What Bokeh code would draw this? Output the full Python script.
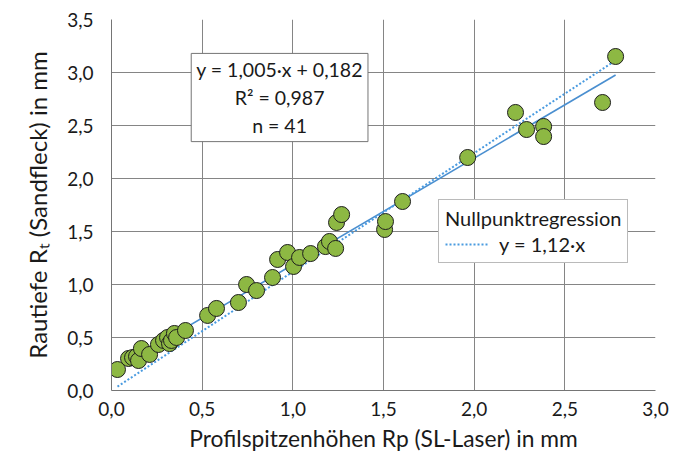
import numpy as np
from bokeh.plotting import figure
from bokeh.models import (ColumnDataSource, FixedTicker, Label, Legend, LegendItem)
from bokeh.embed import file_html
from bokeh.resources import INLINE

# ---- data ----
rp_x = [0.033, 0.094, 0.116, 0.138, 0.149, 0.165, 0.210, 0.259, 0.287, 0.309,
        0.320, 0.331, 0.347, 0.359, 0.408, 0.530, 0.579, 0.700, 0.745, 0.800,
        0.888, 0.916, 0.971, 1.004, 1.037, 1.098, 1.180, 1.202, 1.236, 1.241,
        1.269, 1.506, 1.511, 1.605, 1.964, 2.228, 2.289, 2.383, 2.383, 2.708,
        2.780]
rt_y = [0.198, 0.302, 0.311, 0.321, 0.283, 0.396, 0.340, 0.434, 0.472, 0.500,
        0.443, 0.472, 0.538, 0.500, 0.566, 0.708, 0.774, 0.830, 1.000, 0.943,
        1.066, 1.236, 1.302, 1.170, 1.255, 1.292, 1.358, 1.406, 1.340, 1.585,
        1.660, 1.519, 1.594, 1.783, 2.198, 2.623, 2.462, 2.491, 2.396, 2.717,
        3.151]

slope_lin, intercept_lin = 1.005, 0.182
slope_null = 1.12

x_ticks = [0.0, 0.5, 1.0, 1.5, 2.0, 2.5, 3.0]
x_tick_labels = ["0,0", "0,5", "1,0", "1,5", "2,0", "2,5", "3,0"]
y_ticks = [0.0, 0.5, 1.0, 1.5, 2.0, 2.5, 3.0, 3.5]
y_tick_labels = ["0,0", "0,5", "1,0", "1,5", "2,0", "2,5", "3,0", "3,5"]

x_title = "Profilspitzenhöhen Rp (SL-Laser) in mm"
y_title = "Rautiefe R\u209c (Sandfleck) in mm"
eq_text = "y = 1,005·x + 0,182\nR² = 0,987\nn = 41"
legend_title = "Nullpunktregression"
legend_label = "y = 1,12·x"

FONT = "Lato"
TXT = "#1a1a1a"
GRID = "#858585"

p = figure(width=684, height=461, x_range=(0, 3.0), y_range=(0, 3.5),
           output_backend="svg", toolbar_location=None)
p.min_border_left = 111
p.min_border_right = 29
p.min_border_top = 19
p.min_border_bottom = 71
p.outline_line_color = None
p.background_fill_color = "white"
p.border_fill_color = "white"

for ax, ticks, labels in ((p.xaxis[0], x_ticks, x_tick_labels),
                          (p.yaxis[0], y_ticks, y_tick_labels)):
    ax.ticker = FixedTicker(ticks=ticks)
    ax.major_label_overrides = {t: l for t, l in zip(ticks, labels)}
    ax.major_tick_in = 0
    ax.major_tick_out = 0
    ax.minor_tick_in = 0
    ax.minor_tick_out = 0
    ax.axis_line_color = "#757575"
    ax.axis_line_width = 1
    ax.major_label_text_font = FONT
    ax.major_label_text_font_size = "19px"
    ax.major_label_text_color = TXT
    ax.axis_label_text_font = FONT
    ax.axis_label_text_font_style = "normal"
    ax.axis_label_text_color = TXT

p.xaxis.axis_label = x_title
p.yaxis.axis_label = y_title
p.xaxis.axis_label_text_font_size = "22.8px"
p.yaxis.axis_label_text_font_size = "24px"
p.xaxis.major_label_standoff = 11
p.yaxis.major_label_standoff = 18
p.xaxis.axis_label_standoff = 5
p.yaxis.axis_label_standoff = 12

p.xgrid.ticker = FixedTicker(ticks=x_ticks)
p.ygrid.ticker = FixedTicker(ticks=y_ticks)
for g in (p.xgrid[0], p.ygrid[0]):
    g.grid_line_color = GRID
    g.grid_line_width = 1

# regression lines
xs_line = np.array([min(rp_x), max(rp_x)])
src_lin = ColumnDataSource(dict(x=xs_line, y=slope_lin * xs_line + intercept_lin))
src_null = ColumnDataSource(dict(x=xs_line, y=slope_null * xs_line))
p.line("x", "y", source=src_lin, line_color="#4a8fd0", line_width=1.6)
null_r = p.line("x", "y", source=src_null, line_color="#4a9be0", line_width=2,
                line_dash="2 2")

# points
src_pts = ColumnDataSource(dict(x=rp_x, y=rt_y))
p.scatter("x", "y", source=src_pts, size=16, fill_color="#8db843",
          line_color="#1e1e1e", line_width=1)

# equation box
eq = Label(x=0.927, y=2.764, text=eq_text, text_align="center",
           text_baseline="middle", text_font=FONT, text_font_size="19.5px",
           text_color=TXT, text_line_height=1.2,
           background_fill_color="white", border_line_color="#757575",
           border_line_width=1, padding=5)
p.add_layout(eq)

# legend
legend = Legend(items=[LegendItem(label=legend_label, renderers=[null_r])],
                title=legend_title, location=(327, 127), margin=0)
legend.title_text_font = FONT
legend.title_text_font_size = "20px"
legend.title_text_font_style = "normal"
legend.title_text_color = TXT
legend.title_standoff = 2
legend.label_text_font = FONT
legend.label_text_font_size = "20px"
legend.label_text_color = TXT
legend.glyph_width = 44
legend.label_standoff = 10
legend.padding = 6
legend.border_line_color = "#757575"
legend.border_line_width = 1
legend.background_fill_color = "white"
legend.background_fill_alpha = 1
p.add_layout(legend)

open("out.html", "w").write(file_html(p, INLINE))
